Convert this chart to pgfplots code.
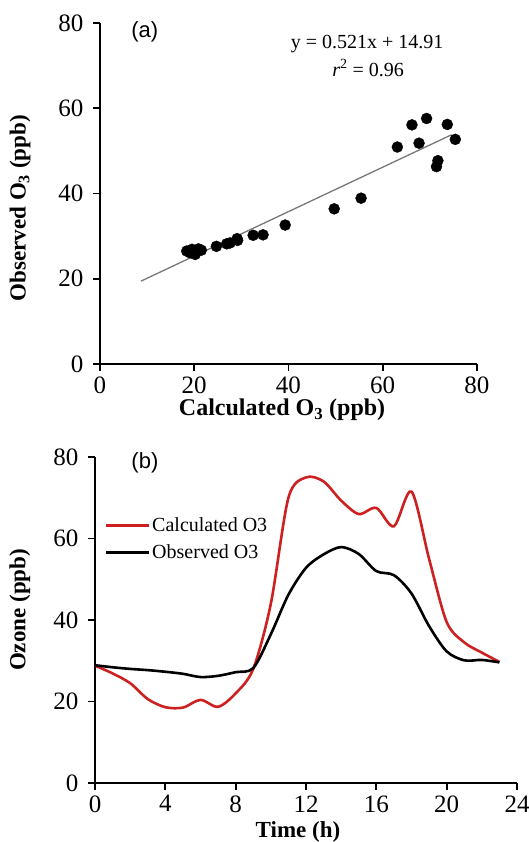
\documentclass[border=0pt]{standalone}
\usepackage{pgfplots}
\pgfplotsset{compat=1.18}
\usepackage{fontspec}
\setmainfont{Liberation Serif}
\newfontfamily\arial{Liberation Sans}
\definecolor{calcred}{RGB}{205,32,32}
\definecolor{fitgray}{RGB}{120,120,120}

\pgfplotsset{
  panel/.style={
    scale only axis,
    axis lines=left,
    axis line style={-, line width=1.8pt},
    tick style={line width=1.8pt, black},
    tick align=outside,
    major tick length=7pt,
    tick label style={font=\fontsize{25}{27}\selectfont},
    yticklabel style={xshift=-6pt},
    xticklabel style={yshift=-2pt},
    /pgf/number format/assume math mode=true,
    clip=false,
  },
}

\begin{document}
\begin{tikzpicture}
\useasboundingbox (0,0) rectangle (529pt,842pt);

% (a) calculated vs observed
\begin{axis}[panel,
  at={(100pt,478pt)}, anchor=south west,
  width=377pt, height=341pt,
  xmin=0, xmax=80, ymin=0, ymax=80,
  xtick={0,20,40,60,80}, ytick={0,20,40,60,80},
  xlabel={Calculated O\textsubscript{3} (ppb)},
  ylabel={Observed O\textsubscript{3} (ppb)},
  xlabel style={at={(axis description cs:0.483,-0.135)}, anchor=center,
    font=\fontsize{24}{26}\selectfont\bfseries},
  ylabel style={at={(axis description cs:-0.212,0.457)}, rotate=0, anchor=center,
    font=\fontsize{23}{26}\selectfont\bfseries},
]
\addplot[fitgray, line width=1.3pt] coordinates {(8.7,19.44) (74.6,53.78)};
\addplot[only marks, mark=*, mark size=5.5pt, black] coordinates {
  (18.4,26.5) (19.1,26.1) (20.2,25.7) (20.9,27.0) (19.5,26.9) (21.5,26.7)
  (24.7,27.6) (26.9,28.2) (27.6,28.4) (29.1,29.4) (29.2,29.0) (32.5,30.2)
  (34.6,30.3) (39.3,32.6) (49.7,36.4) (55.4,38.9) (63.1,50.9) (66.2,56.1)
  (69.3,57.6) (67.7,51.8) (73.7,56.2) (75.4,52.7) (71.7,47.7) (71.4,46.3)
};
\node[font=\arial\fontsize{22}{24}\selectfont] at (axis cs:9.5,77.9) {(a)};
\node[font=\fontsize{20}{22}\selectfont] at (axis cs:56.7,75.0) {y = 0.521x + 14.91};
\node[font=\fontsize{20}{22}\selectfont] at (axis cs:56.9,69.4) {\textit{r}\textsuperscript{2} = 0.96};
\end{axis}

% (b) diurnal ozone
\begin{axis}[panel,
  at={(95pt,59pt)}, anchor=south west,
  width=422pt, height=326pt,
  xmin=0, xmax=24, ymin=0, ymax=80,
  xtick={0,4,...,24}, ytick={0,20,40,60,80},
  xlabel={Time (h)},
  ylabel={Ozone (ppb)},
  xlabel style={at={(axis description cs:0.481,-0.150)}, anchor=center,
    font=\fontsize{23}{26}\selectfont\bfseries},
  ylabel style={at={(axis description cs:-0.178,0.531)}, rotate=0, anchor=center,
    font=\fontsize{23}{26}\selectfont\bfseries},
  legend style={at={(axis description cs:0.02,0.824)}, anchor=north west,
    draw=none, fill=none, font=\fontsize{20}{22}\selectfont,
    row sep=8pt, inner sep=1pt},
  legend cell align=left,
  legend image code/.code={\draw[#1] (0pt,0pt) -- (43pt,0pt);},
]
\addplot[calcred, line width=2.6pt, smooth] coordinates {
  (0,28.8) (1,26.9) (2,24.5) (3,20.6) (4,18.6) (5,18.5) (6,20.4) (7,18.7)
  (8,22.0) (9,28.0) (10,44.0) (11,70.0) (12,75.0) (13,74.0) (14,69.3)
  (15,66.0) (16,67.5) (17,63.0) (18,71.5) (19,55.0) (20,39.5) (21,34.5)
  (22,32.0) (23,29.7)
};
\addlegendentry{Calculated O3}
\addplot[black, line width=2.6pt, smooth] coordinates {
  (0,28.9) (1,28.4) (2,28.0) (3,27.7) (4,27.3) (5,26.8) (6,26.0) (7,26.3)
  (8,27.2) (9,28.2) (10,36.5) (11,46.2) (12,52.8) (13,56.1) (14,57.9)
  (15,56.2) (16,52.0) (17,51.0) (18,46.5) (19,38.5) (20,32.3) (21,30.1)
  (22,30.2) (23,29.6)
};
\addlegendentry{Observed O3}
\node[font=\arial\fontsize{22}{24}\selectfont] at (axis cs:2.84,78.5) {(b)};
\end{axis}
\end{tikzpicture}
\end{document}
